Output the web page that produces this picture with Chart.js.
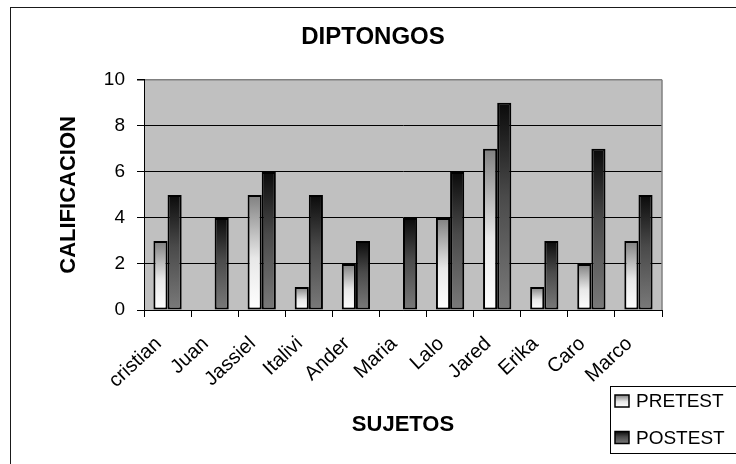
<!DOCTYPE html>
<html><head><meta charset="utf-8">
<script src="https://cdn.jsdelivr.net/npm/chart.js@4.4.0/dist/chart.umd.min.js"></script>
<style>html,body{margin:0;padding:0;background:#fff;overflow:hidden;} #wrap{width:736px;height:464px;position:relative;}</style>
</head><body><div id="wrap"><canvas id="c" width="736" height="464"></canvas></div>
<script>
const categories = ['cristian','Juan','Jassiel','Italivi','Ander','Maria','Lalo','Jared','Erika','Caro','Marco'];
const pretest = [3, 0, 5, 1, 2, 0, 4, 7, 1, 2, 3];
const postest = [5, 4, 6, 5, 3, 4, 6, 9, 3, 7, 5];
const yTicks = [0, 2, 4, 6, 8, 10];
const seriesNames = ['PRETEST', 'POSTEST'];
const chartTitle = 'DIPTONGOS';
const xTitle = 'SUJETOS';
const yTitle = 'CALIFICACION';

const FONT = "'Liberation Sans', Arial, sans-serif";
const preStops = [[0, '#808080'], [0.55, '#e8e8e8'], [1, '#ffffff']];
const postStops = [[0, '#0a0a0a'], [0.45, '#4a4a4a'], [1, '#7a7a7a']];

function barGradient(ctx, stops, fallback) {
  if (ctx.type !== 'data') return fallback;
  const chart = ctx.chart, ys = chart.scales && chart.scales.y;
  if (!ys) return fallback;
  const top = ys.getPixelForValue(ctx.raw), base = ys.getPixelForValue(0);
  if (!isFinite(top) || !isFinite(base) || top === base) return fallback;
  const g = chart.ctx.createLinearGradient(0, top, 0, base);
  stops.forEach(s => g.addColorStop(s[0], s[1]));
  return g;
}

const framePlugin = {
  id: 'frame',
  beforeDraw(chart) {
    const c = chart.ctx, a = chart.chartArea;
    c.save();
    c.fillStyle = '#fff';
    c.fillRect(0, 0, chart.width, chart.height);
    c.fillStyle = '#c0c0c0';
    c.fillRect(a.left, a.top, a.right - a.left, a.bottom - a.top);
    c.strokeStyle = '#1a1a1a';
    c.lineWidth = 1;
    c.strokeRect(10.5, 7.5, 760, 480);
    c.restore();
  },
  beforeDatasetsDraw(chart) {
    const c = chart.ctx, a = chart.chartArea;
    c.save();
    c.strokeStyle = '#808080';
    c.lineWidth = 1.5;
    c.beginPath();
    c.moveTo(a.right, a.top);
    c.lineTo(a.right, a.bottom);
    c.stroke();
    c.restore();
  },
  afterDraw(chart) {
    const c = chart.ctx;
    c.save();
    c.strokeStyle = '#000';
    c.lineWidth = 1;
    c.strokeRect(610.5, 386.5, 160, 67);
    const stopsList = [preStops, postStops];
    const ys = [401, 437.5];
    chart.data.datasets.forEach((ds, i) => {
      const y = ys[i];
      const g = c.createLinearGradient(0, y - 6, 0, y + 6);
      stopsList[i].forEach(s => g.addColorStop(s[0], s[1]));
      c.fillStyle = g;
      c.fillRect(615, y - 6, 14, 12);
      c.strokeStyle = '#000';
      c.lineWidth = 1.5;
      c.strokeRect(615, y - 6, 14, 12);
      c.fillStyle = '#000';
      c.font = '19px ' + FONT;
      c.textBaseline = 'middle';
      c.textAlign = 'left';
      c.fillText(ds.label, 636, y + 1);
    });
    c.restore();
  }
};

new Chart(document.getElementById('c'), {
  type: 'bar',
  data: {
    labels: categories,
    datasets: [
      {
        label: seriesNames[0],
        data: pretest,
        backgroundColor: ctx => barGradient(ctx, preStops, '#c8c8c8'),
        borderColor: '#000',
        borderWidth: ctx => (ctx.raw === 0 ? 0 : 2),
        borderSkipped: false,
        categoryPercentage: 0.6,
        barPercentage: 1.0
      },
      {
        label: seriesNames[1],
        data: postest,
        backgroundColor: ctx => barGradient(ctx, postStops, '#404040'),
        borderColor: '#000',
        borderWidth: ctx => (ctx.raw === 0 ? 0 : 2),
        borderSkipped: false,
        categoryPercentage: 0.6,
        barPercentage: 1.0
      }
    ]
  },
  options: {
    responsive: false,
    animation: false,
    devicePixelRatio: 1,
    layout: { padding: { left: 10, right: 0, top: 0, bottom: 0 } },
    plugins: {
      legend: { display: false },
      tooltip: { enabled: false },
      title: {
        display: true,
        text: chartTitle,
        color: '#000',
        font: { family: FONT, size: 24, weight: 'bold' },
        padding: { top: 23, bottom: 28 }
      }
    },
    scales: {
      x: {
        offset: true,
        grid: { display: true, drawOnChartArea: false, drawTicks: true, tickLength: 7, color: '#000', offset: true, lineWidth: 1 },
        border: { display: true, color: '#000', width: 1 },
        ticks: { autoSkip: false, minRotation: 43, maxRotation: 43, color: '#000', font: { family: FONT, size: 20 }, padding: 15, labelOffset: -9 },
        title: { display: true, text: xTitle, color: '#000', font: { family: FONT, size: 22, weight: 'bold' }, padding: { top: 4, bottom: 26 } },
        afterFit(s) { s.height = 154; }
      },
      y: {
        min: 0,
        max: 10,
        afterBuildTicks(s) { s.ticks = yTicks.map(v => ({ value: v })); },
        grid: {
          drawTicks: true,
          tickLength: 7,
          color: ctx => (ctx.tick && ctx.tick.value === 10 ? '#808080' : '#000'),
          lineWidth: ctx => (ctx.tick && ctx.tick.value === 10 ? 1.5 : 1),
          tickColor: '#000'
        },
        border: { display: true, color: '#000', width: 1 },
        ticks: { color: '#000', font: { family: FONT, size: 19 }, padding: 12 },
        title: { display: true, text: yTitle, color: '#000', font: { family: FONT, size: 22, weight: 'bold' }, padding: { top: 46, bottom: 0 } },
        afterFit(s) { s.width = 134; }
      },
      spacer: {
        type: 'linear',
        position: 'right',
        display: true,
        grid: { display: false, drawTicks: false },
        border: { display: false },
        ticks: { display: false },
        title: { display: false },
        afterFit(s) { s.width = 74; }
      }
    }
  },
  plugins: [framePlugin]
});
</script>
</body></html>
